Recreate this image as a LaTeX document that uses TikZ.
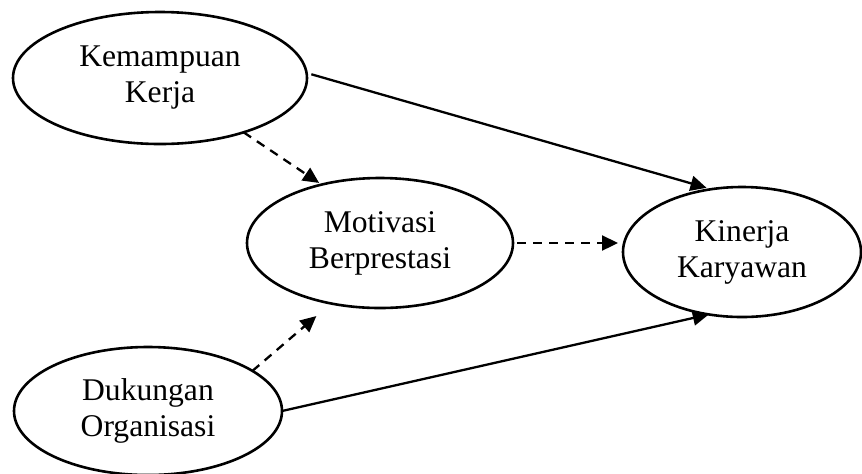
\documentclass[tikz,border=0pt]{standalone}
\usepackage{fontspec}
\setmainfont{Liberation Serif}
\usetikzlibrary{arrows.meta,shapes.geometric}
\begin{document}
\begin{tikzpicture}[x=0.5pt,y=-0.5pt,
  construct/.style={ellipse, draw, line width=1.3pt, inner sep=0pt, outer sep=0pt,
    align=center, font=\fontsize{15.8pt}{18pt}\selectfont},
  link/.style={line width=1.15pt, -{Triangle[length=8pt,width=7.5pt]}},
  dlink/.style={link, dash pattern=on 4.5pt off 3.5pt}]
\useasboundingbox (0,0) rectangle (862,473);

% constructs
\node[construct, minimum width=147pt, minimum height=66pt] (kk)  at (160,78)  {Kemampuan\\Kerja};
\node[construct, minimum width=133pt, minimum height=65pt] (mb)  at (380,243) {Motivasi\\Berprestasi};
\node[construct, minimum width=119pt, minimum height=65pt] (kin) at (742,252) {Kinerja\\Karyawan};
\node[construct, minimum width=134pt, minimum height=64pt] (dk)  at (148,411) {Dukungan\\Organisasi};

% direct effects
\draw[link, shorten <=2.5pt, shorten >=2.5pt] (kk.2.5) -- (kin.116.5);
\draw[link] (dk.east) -- (kin.242.4);

% paths through the mediator
\draw[dlink, shorten >=1.5pt] (kk.-33) -- (mb.135);
\draw[dlink, shorten >=9.7pt] (dk.21) -- (mb.231.6);
\draw[dlink, shorten <=2pt, shorten >=2.5pt] (mb.east) -- (mb.east -| kin.west);
\end{tikzpicture}
\end{document}
